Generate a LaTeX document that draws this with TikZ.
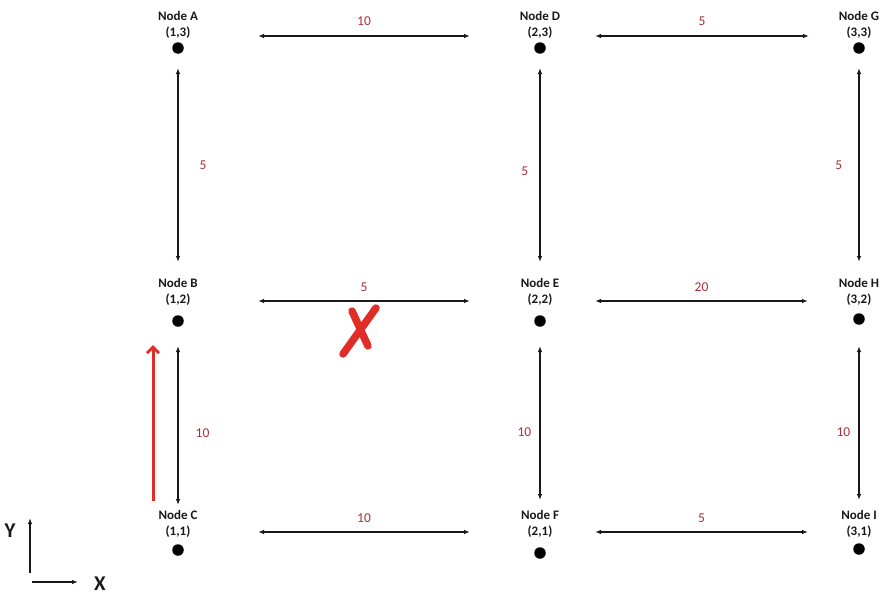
\documentclass[tikz,border=0pt]{standalone}
\usepackage{fontspec}
\setmainfont{Carlito}
\usepackage{tikz}
\usetikzlibrary{arrows.meta, positioning}
\definecolor{mydark}{RGB}{25,25,25}
\definecolor{mywt}{RGB}{170,45,55}
\definecolor{myred}{RGB}{225,45,40}
\tikzset{
  dot/.style={circle, fill=black, minimum size=11.5pt, inner sep=0pt},
  lbl/.style={align=center, inner sep=1pt, text=mydark,
    font=\fontsize{13}{16}\selectfont\bfseries},
  wt/.style={inner sep=3pt, text=mywt, font=\fontsize{13.5}{15}\selectfont},
  axlbl/.style={inner sep=1pt, text=mydark, font=\fontsize{21}{24}\selectfont\bfseries},
  link/.style={{Latex[length=6pt,width=4.5pt]}-{Latex[length=6pt,width=4.5pt]},
    line width=1.4pt, color=mydark},
  axis/.style={-{Latex[length=6pt,width=4.5pt]}, line width=1.4pt, color=mydark},
  redarrow/.style={-{Straight Barb[length=6pt,width=12pt]}, line width=3pt, color=myred},
  cross/.style={line width=7.5pt, line cap=round, color=myred}
}
\begin{document}
\begin{tikzpicture}[x=1pt, y=-1pt]
  \useasboundingbox (0,0) rectangle (887,597);
  % grid points
  \node[dot] (A) at (178,48) {};
  \node[dot] (D) at (540,48) {};
  \node[dot] (G) at (859,48) {};
  \node[dot] (B) at (178,321) {};
  \node[dot] (E) at (540,321) {};
  \node[dot] (H) at (859,319) {};
  \node[dot] (C) at (178,550) {};
  \node[dot] (F) at (540,553) {};
  \node[dot] (I) at (859,549) {};
  \node[lbl] (lA) at (178,25) {Node A\\(1,3)};
  \node[lbl] (lD) at (540,25) {Node D\\(2,3)};
  \node[lbl] (lG) at (859,25) {Node G\\(3,3)};
  \node[lbl] (lB) at (178,292) {Node B\\(1,2)};
  \node[lbl] (lE) at (540,292) {Node E\\(2,2)};
  \node[lbl] (lH) at (859,292) {Node H\\(3,2)};
  \node[lbl] (lC) at (178,524) {Node C\\(1,1)};
  \node[lbl] (lF) at (540,524) {Node F\\(2,1)};
  \node[lbl] (lI) at (859,524) {Node I\\(3,1)};
  % horizontal links
  \draw[link] ([shift={(80,11)}]lA.center) -- node[wt, above=7pt] {10} ([shift={(-70,11)}]lD.center);
  \draw[link] ([shift={(55,11)}]lD.center) -- node[wt, above=7pt] {5} ([shift={(-50,11)}]lG.center);
  \draw[link] ([shift={(80,9)}]lB.center) -- node[wt, above=6pt] {5} ([shift={(-70,9)}]lE.center);
  \draw[link] ([shift={(55,9)}]lE.center) -- node[wt, above=6pt] {20} ([shift={(-51,9)}]lH.center);
  \draw[link] ([shift={(80,8)}]lC.center) -- node[wt, above=6pt] {10} ([shift={(-70,8)}]lF.center);
  \draw[link] ([shift={(55,8)}]lF.center) -- node[wt, above=6pt] {5} ([shift={(-51,8)}]lI.center);
  % vertical links
  \draw[link] ([shift={(0,20)}]A.center) -- node[wt, right=18pt] {5} ([shift={(0,-30)}]lB.center);
  \draw[link] ([shift={(0,25)}]B.center) -- node[wt, right=14pt, pos=0.55] {10} ([shift={(0,-19)}]lC.center);
  \draw[link] ([shift={(0,20)}]D.center) -- node[wt, left=8pt, pos=0.53] {5} ([shift={(0,-30)}]lE.center);
  \draw[link] ([shift={(0,25)}]E.center) -- node[wt, left=5pt, pos=0.56] {10} ([shift={(0,-24)}]lF.center);
  \draw[link] ([shift={(0,20)}]G.center) -- node[wt, left=13pt] {5} ([shift={(0,-30)}]lH.center);
  \draw[link] ([shift={(0,27)}]H.center) -- node[wt, left=5pt, pos=0.56] {10} ([shift={(0,-24)}]lI.center);
  % path marks
  \draw[redarrow] ([shift={(-25,-49)}]C.center) -- ([shift={(-25,24)}]B.center);
  \coordinate (cut) at (358,330);
  \draw[cross] ([shift={(-15,24)}]cut) -- ([shift={(18,-22)}]cut);
  \draw[cross] ([shift={(-6,-19)}]cut) -- ([shift={(10,16)}]cut);
  % axes
  \coordinate (orig) at (30,582);
  \node[axlbl] (ylab) at (10,531) {Y};
  \node[axlbl] (xlab) at (100,584) {X};
  \draw[axis] ([shift={(0,-9)}]orig) -- ([shift={(0,-64)}]orig);
  \draw[axis] ([shift={(2,0)}]orig) -- ([shift={(48,0)}]orig);
\end{tikzpicture}
\end{document}
